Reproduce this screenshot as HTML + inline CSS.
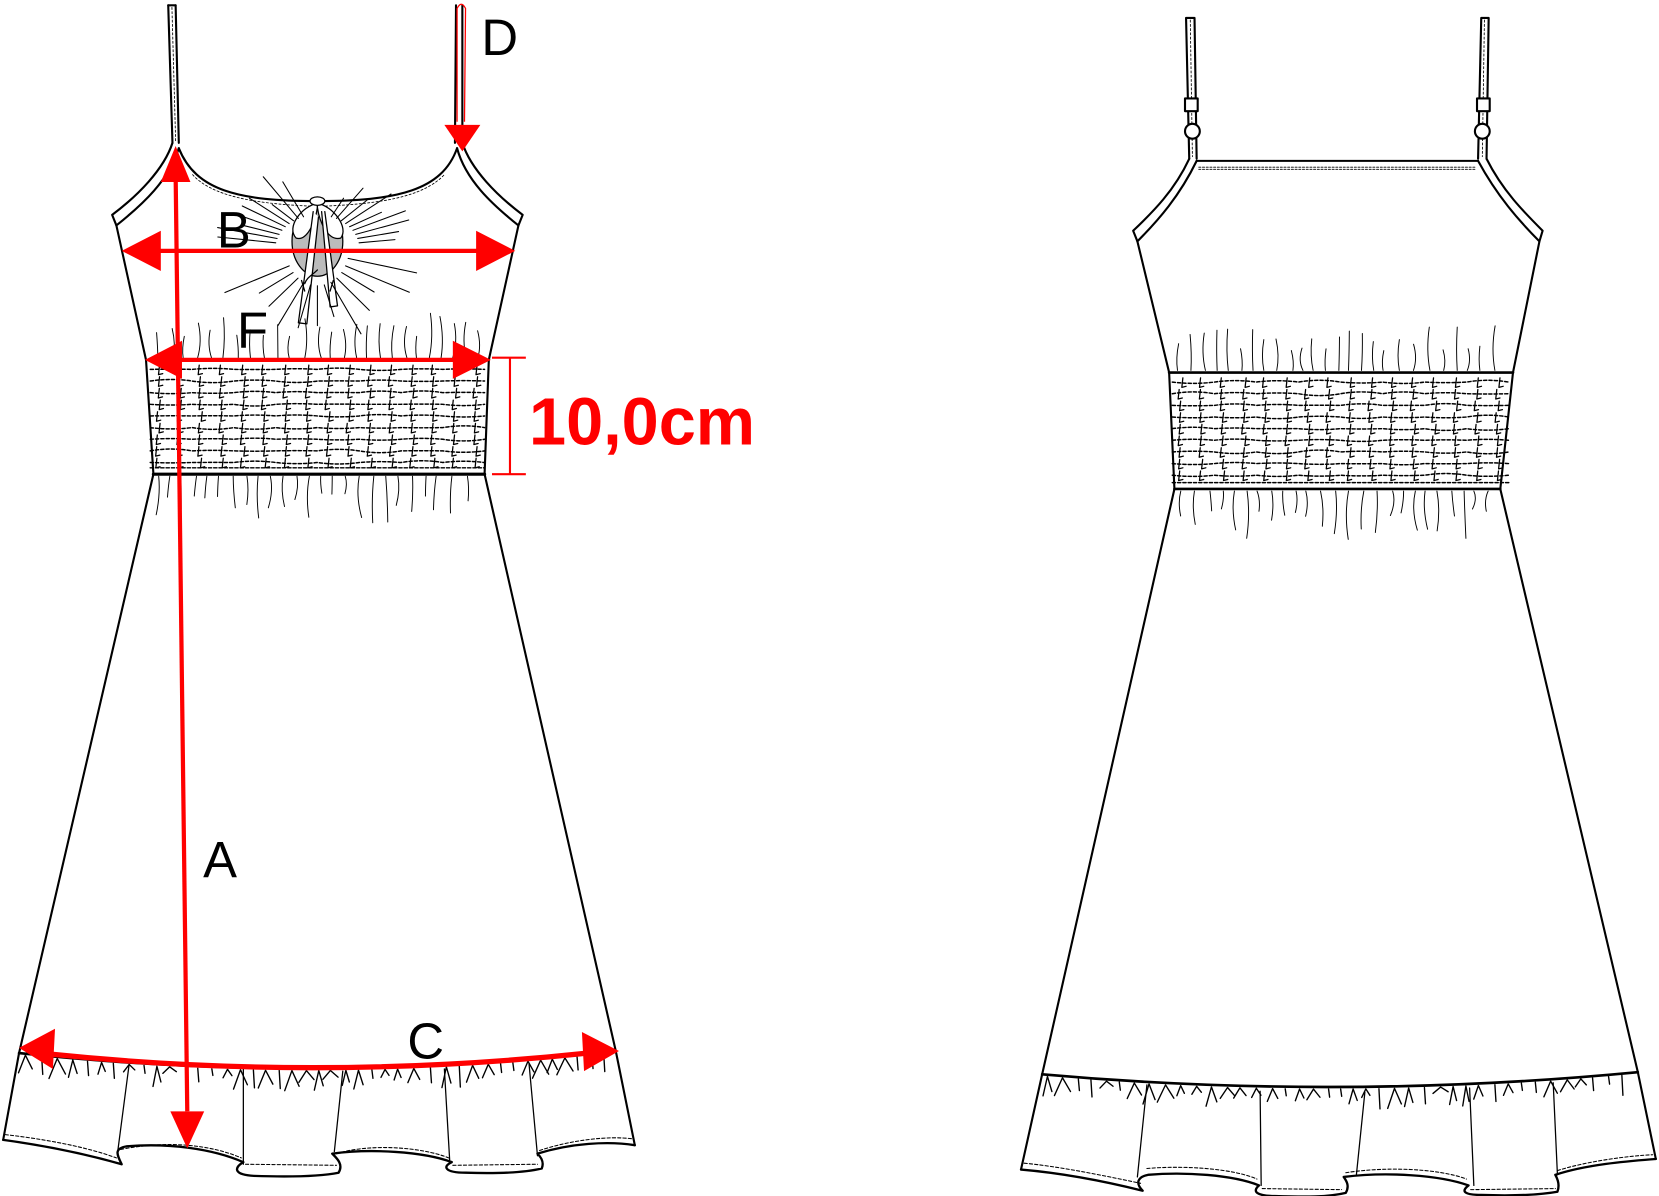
<!DOCTYPE html>
<html><head><meta charset="utf-8"><style>
html,body{margin:0;padding:0;background:#fff;width:1659px;height:1196px;overflow:hidden}
svg{display:block}
text{font-family:"Liberation Sans",Arial,sans-serif}
</style></head><body>
<svg id="s" width="1659" height="1196" viewBox="0 0 1568 1130" preserveAspectRatio="none" xmlns="http://www.w3.org/2000/svg">
<g fill="none" stroke="#000" stroke-linejoin="round" stroke-linecap="round">
<!-- LEFT DRESS -->
<path d="M159,5 L163,135 M166,5 L169,135" stroke-width="2"/>
<path d="M159,5 L166,5" stroke-width="2"/>
<path d="M162.5,7 L166,133" stroke-width="0.8" stroke-dasharray="2,2"/>
<path d="M431,5 L430,135 M437,5 L437,135" stroke-width="2"/>
<path d="M163,135 C155,160 130,185 106,203 L110,213 C135,193 160,170 169,140" stroke-width="2"/>
<path d="M437,135 C445,160 470,185 494,203 L490,213 C465,193 440,170 432,140" stroke-width="2"/>
<path d="M169,140 C185,180 225,190 300,190 C375,190 418,180 432,140" stroke-width="2"/>
<path d="M182,165 C200,185 240,193 300,195 C360,193 400,186 420,165" stroke-width="0.8" stroke-dasharray="2,2"/>
<path d="M110,213 L138,340 L145,448 L18,995 L3,1077" stroke-width="2"/>
<path d="M490,213 L462,340 L458,448 L582,993 L600,1082" stroke-width="2"/>
<path d="M138,340 L462,340" stroke-width="1.5"/>
<path d="M145,448 L458,448" stroke-width="3"/>
<path d="M18,995 Q300,1025 582,993" stroke-width="2.5"/>
<path d="M3,1077 C40,1082 80,1090 115,1100 C110,1090 108,1085 120,1083 C160,1080 200,1085 230,1098 C220,1104 222,1110 240,1111 C270,1112 300,1112 320,1108 C325,1100 318,1094 314,1090 C350,1085 400,1088 427,1098 C418,1102 420,1108 440,1108 C470,1109 495,1108 512,1104 C515,1097 510,1092 508,1090 C540,1080 575,1078 600,1082" stroke-width="2.2"/>
<path d="M5,1072 C40,1076 80,1083 110,1094 M114,1086 C160,1077 200,1082 228,1094 M232,1100 L318,1101 M318,1090 C350,1080 400,1084 424,1094 M428,1101 L508,1100 M510,1087 C540,1077 575,1073 598,1076" stroke-width="1" stroke-dasharray="3,2"/>
<path d="M122,1006 L111,1090 M230,1010 L230,1100 M324,1012 L316,1088 M420,1010 L425,1096 M500,1005 L508,1092" stroke-width="1.2"/>
<!-- bow -->
<g stroke-width="1.2">
<ellipse cx="300" cy="228" rx="24" ry="33" fill="#bbb"/>
<path d="M300,192 C285,195 270,215 280,225 C290,228 298,210 300,196 Z" fill="#fff"/>
<path d="M300,192 C315,195 330,215 322,225 C310,228 302,210 300,196 Z" fill="#fff"/>
<path d="M296,200 L282,305 L290,306 L301,205 M304,200 L312,290 L319,289 L307,200" fill="#fff"/>
<ellipse cx="300" cy="190" rx="7" ry="4" fill="#fff"/>
<path d="M300,255 C295,260 290,262 288,268 M285,265 L288,275 M315,265 L312,275" />
</g>
<g id="rays" stroke-width="1"></g>
<g id="smockL"></g>
<!-- RIGHT DRESS -->
<path d="M1121,17 L1124,150 M1129,17 L1131,150 M1121,17 L1129,17" stroke-width="2"/>
<path d="M1125,19 L1127,148" stroke-width="0.8" stroke-dasharray="2,2"/>
<path d="M1400,17 L1397,150 M1407,17 L1405,150 M1400,17 L1407,17" stroke-width="2"/>
<path d="M1403,19 L1401,148" stroke-width="0.8" stroke-dasharray="2,2"/>
<rect x="1120" y="93" width="12" height="12" stroke-width="2" fill="#fff"/>
<rect x="1396" y="93" width="12" height="12" stroke-width="2" fill="#fff"/>
<circle cx="1127" cy="124" r="7" stroke-width="2" fill="#fff"/>
<circle cx="1401" cy="124" r="7" stroke-width="2" fill="#fff"/>
<path d="M1131,152 L1397,152" stroke-width="2"/>
<path d="M1133,158 L1394,158 M1133,160 L1394,160" stroke-width="0.8" stroke-dasharray="2,1.5"/>
<path d="M1124,150 C1110,180 1090,200 1071,218 L1075,228 C1095,208 1115,185 1131,152" stroke-width="2"/>
<path d="M1405,150 C1420,180 1440,200 1458,218 L1455,228 C1435,208 1415,185 1397,152" stroke-width="2"/>
<path d="M1075,228 L1105,352 L1110,462 L985,1015 L965,1105" stroke-width="2"/>
<path d="M1455,228 L1430,352 L1418,462 L1548,1013 L1565,1095" stroke-width="2"/>
<path d="M1105,352 L1430,352" stroke-width="2.5"/>
<path d="M1110,462 L1418,462" stroke-width="2.5"/>
<path d="M985,1015 Q1265,1040 1548,1013" stroke-width="2.5"/>
<path d="M965,1105 C1000,1108 1040,1115 1080,1125 C1073,1118 1075,1112 1085,1110 C1120,1107 1165,1110 1190,1120 C1183,1126 1188,1130 1205,1130 C1235,1131 1255,1131 1272,1127 C1276,1120 1272,1115 1270,1112 C1310,1107 1360,1110 1388,1120 C1380,1126 1385,1129 1400,1129 C1430,1130 1455,1129 1472,1126 C1475,1118 1471,1112 1470,1110 C1500,1100 1540,1097 1565,1095" stroke-width="2.2"/>
<path d="M968,1099 C1000,1102 1040,1110 1078,1118 M1084,1104 C1120,1101 1165,1104 1188,1114 M1193,1123 L1268,1124 M1272,1108 C1310,1102 1360,1104 1386,1114 M1390,1124 L1470,1123 M1472,1106 C1500,1097 1540,1092 1562,1091" stroke-width="1" stroke-dasharray="3,2"/>
<path d="M1084,1025 L1075,1112 M1191,1031 L1192,1120 M1290,1032 L1282,1110 M1389,1028 L1393,1120 M1468,1023 L1472,1110" stroke-width="1.2"/>
<g id="smockR"></g>
<g id="zig" stroke-width="1.4"></g>
</g>
<!-- RED ANNOTATIONS -->
<g fill="#f00" stroke="#f00">
<path d="M166,165 L177,1050" stroke-width="4" fill="none"/>
<path d="M166,138 L152,172 L180,172 Z" stroke="none"/>
<path d="M177,1085 L161,1050 L193,1050 Z" stroke="none"/>
<path d="M145,237 L455,237" stroke-width="4" fill="none"/>
<path d="M115,237 L152,218 L152,256 Z M487,237 L450,218 L450,256 Z" stroke="none"/>
<path d="M165,340 L435,340" stroke-width="4" fill="none"/>
<path d="M137,340 L172,322 L172,358 Z M464,340 L428,322 L428,358 Z" stroke="none"/>
<path d="M48,996 Q300,1022 555,995" stroke-width="5" fill="none"/>
<path d="M18,990 L52,972 L50,1010 Z M585,993 L550,975 L552,1012 Z" stroke="none"/>
<path d="M432,115 L432,8 Q436,0 440,8 L439,115" stroke-width="1.2" fill="none"/>
<path d="M436,118 L436,125" stroke-width="3"/>
<path d="M437,143 L420,118 L454,118 Z" stroke="none"/>
<path d="M465,338 L497,338 M482,338 L482,448 M465,448 L497,448" stroke-width="2" fill="none"/>
</g>
<g font-size="48" fill="#000">
<text x="205" y="234">B</text>
<text x="224" y="329">F</text>
<text x="455" y="52">D</text>
<text x="192" y="829">A</text>
<text x="385" y="1000">C</text>
</g>
<text x="500" y="420" font-size="63" font-weight="bold" fill="#f00">10,0cm</text>
</svg>
<script>
var NS="http://www.w3.org/2000/svg";
function P(g,d,w,dash){var p=document.createElementNS(NS,"path");p.setAttribute("d",d);p.setAttribute("stroke-width",w);if(dash)p.setAttribute("stroke-dasharray",dash);document.getElementById(g).appendChild(p);}
var seed=7;function r(){seed=(seed*9301+49297)%233280;return seed/233280;}
for(var i=0;i<22;i++){var a=(-170+i*(160/21))*Math.PI/180;var cx=300,cy=235;var r1=40,r2=60+r()*40;
if(Math.abs(Math.cos(a))<0.25&&Math.sin(a)<0)continue;
P("rays","M"+(cx+r1*Math.cos(a)).toFixed(1)+","+(cy+r1*0.8*Math.sin(a)).toFixed(1)+" L"+(cx+r2*1.2*Math.cos(a)).toFixed(1)+","+(cy+r2*0.8*Math.sin(a)).toFixed(1),1);}
for(var i=0;i<12;i++){var a=(15+i*12.5)*Math.PI/180;var cx=300,cy=235;var r2=60+r()*30;
P("rays","M"+(cx+30*Math.cos(a)).toFixed(1)+","+(cy+35*Math.sin(a)).toFixed(1)+" L"+(cx+r2*1.1*Math.cos(a)).toFixed(1)+","+(cy+r2*Math.sin(a)).toFixed(1),1);}
function smock(g,x0,x1,y0,y1,step){
 var n=Math.round((x1-x0)/step);step=(x1-x0)/n;
 for(var y=y0+9;y<y1-4;y+=11){var d="M"+x0+","+y;for(var k=0;k<n;k++){var x=x0+k*step;d+=" Q"+(x+step/2).toFixed(1)+","+(y+(r()-0.5)*7).toFixed(1)+" "+(x+step).toFixed(1)+","+y;}P(g,d,1.4,"3,2");}
 P(g,"M"+x0+","+(y1-6)+" L"+x1+","+(y1-6),1.4,"3,2");
 for(var x=x0+8;x<x1-4;x+=20){for(var y=y0+5;y<y1-6;y+=11){var xx=x+(r()-0.5)*4;P(g,"M"+xx.toFixed(1)+","+y+" L"+(xx-1).toFixed(1)+","+(y+9)+" L"+(xx+3).toFixed(1)+","+(y+8),1.2);}}
 for(var x=x0+6;x<x1-4;x+=9+r()*6){var h=20+r()*25;P(g,"M"+x.toFixed(1)+","+(y0-h).toFixed(1)+" Q"+(x+(r()-0.5)*8).toFixed(1)+","+(y0-h/2)+" "+(x+(r()-0.5)*3).toFixed(1)+","+(y0-2),0.9);}
 for(var x=x0+8;x<x1-6;x+=9+r()*6){var h=18+r()*30;P(g,"M"+x.toFixed(1)+","+(y1+2)+" Q"+(x+(r()-0.5)*8).toFixed(1)+","+(y1+h/2)+" "+(x+(r()-0.5)*5).toFixed(1)+","+(y1+h).toFixed(1),0.9);}
}
smock("smockL",142,458,340,448,38);
smock("smockR",1108,1426,352,462,38);
function zig(x0,x1,yA,yB,yC){for(var x=x0;x<x1;x+=11+r()*5){var t=(x-x0)/(x1-x0);var y=yA*(1-t)*(1-t)+2*yB*t*(1-t)+yC*t*t;var h=8+r()*14;var w=3+r()*5;
 if(r()<0.7)P("zig","M"+(x-w).toFixed(1)+","+(y+h).toFixed(1)+" L"+x.toFixed(1)+","+(y+2).toFixed(1)+" L"+(x+w).toFixed(1)+","+(y+h*0.8).toFixed(1),1.3);
 else P("zig","M"+x.toFixed(1)+","+(y+2).toFixed(1)+" L"+(x+1).toFixed(1)+","+(y+h).toFixed(1),1.3);}}
zig(24,576,995,1025,993);
zig(990,1542,1015,1040,1013);
</script>
</body></html>
